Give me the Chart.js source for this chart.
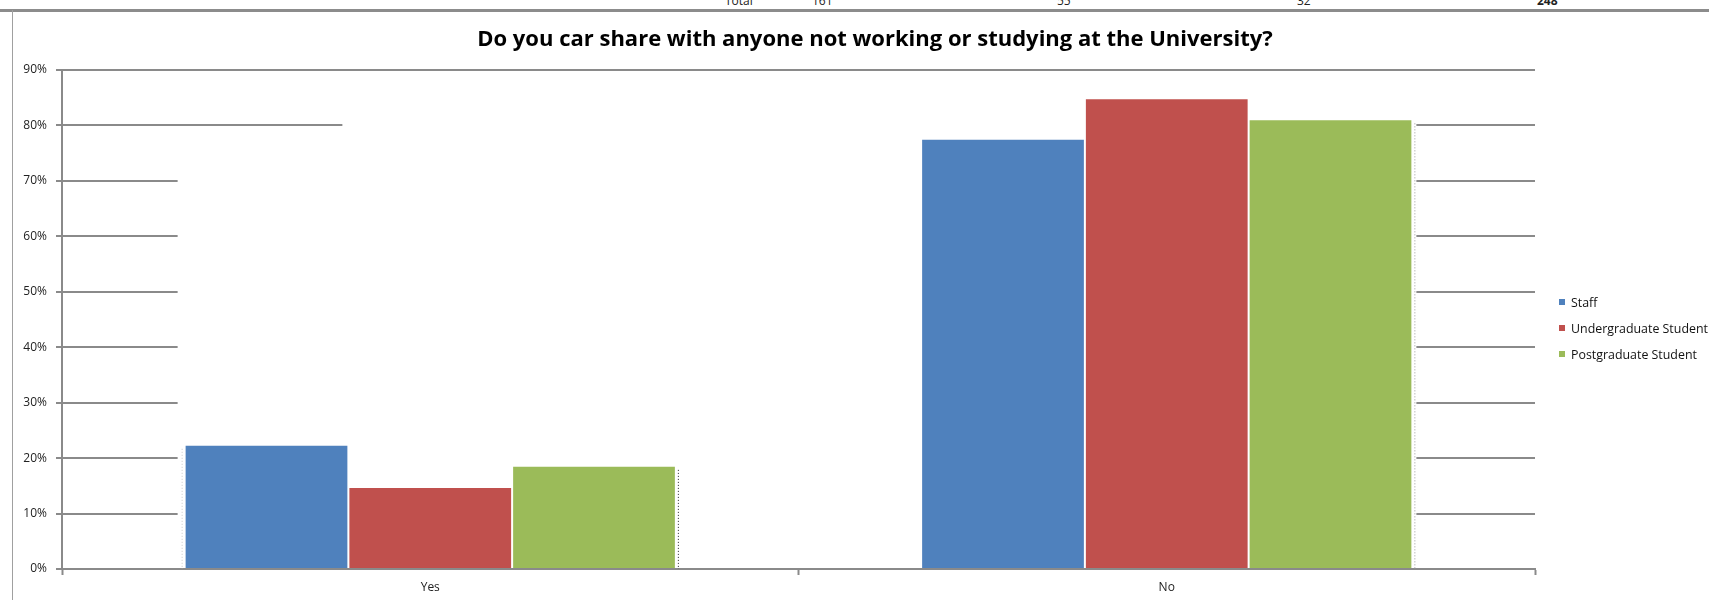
<!DOCTYPE html>
<html lang="en">

<head>
  <meta charset="utf-8">
  <title>Car share survey</title>
  <script src="https://cdn.jsdelivr.net/npm/chart.js@4.4.1/dist/chart.umd.min.js"></script>
  <style>
    body { margin: 0; overflow: hidden; background: #fff; font-family: "Open Sans", sans-serif; }
    #wrap { position: relative; width: 1709px; height: 600px; overflow: hidden; }
    #sheet span { position: absolute; top: -8px; font-size: 12px; color: #222; }
    #frame-top { position: absolute; left: 0; top: 9px; width: 1709px; height: 3px; background: #8c8c8c; }
    #frame-left { position: absolute; left: 12px; top: 10px; width: 1px; height: 590px; background: #a0a0a0; }
    #title { position: absolute; left: 475px; width: 800px; top: 24px; line-height: 26px; text-align: center;
             font-size: 22px; font-weight: bold; color: #000; white-space: nowrap; }
    #legend { position: absolute; left: 1559px; top: 294px; margin: 0; padding: 0; list-style: none; white-space: nowrap; }
    #legend li { height: 26px; line-height: 18px; font-size: 12.4px; color: #111; }
    #legend i { display: inline-block; width: 6px; height: 6px; margin-right: 6px; vertical-align: 2px; }
  </style>
</head>

<body>
  <div id="wrap">
    <!-- row of the sheet above the chart, mostly hidden -->
    <div id="sheet">
      <span style="left:725px">Total</span>
      <span style="left:812px">161</span>
      <span style="left:1057px">55</span>
      <span style="left:1297px">32</span>
      <span style="left:1537px;font-weight:bold">248</span>
    </div>
    <div id="frame-top"></div>
    <div id="frame-left"></div>
    <div style="position:absolute;left:0;top:0;width:1709px;height:600px;"><canvas id="graph"></canvas></div>
    <div id="title">Do you car share with anyone not working or studying at the University?</div>
    <ul id="legend"></ul>
  </div>

  <script>
    const answers = ['Yes', 'No'];
    const groups = ['Staff', 'Undergraduate Student', 'Postgraduate Student'];
    const colours = ['#4f81bd', '#c0504d', '#9bbb59'];
    // percent of each group giving each answer
    const staff = [22.4, 77.6];
    const undergrad = [14.8, 84.9];
    const postgrad = [18.6, 81.1];
    const yTicks = [0, 10, 20, 30, 40, 50, 60, 70, 80, 90];

    const gridGrey = '#8a8a8a';

    // white patches behind the bars knock out the gridlines, and the dotted drop lines
    const barShadow = {
      id: 'barShadow',
      beforeDatasetsDraw(chart) {
        const ctx = chart.ctx;
        const y = chart.scales.y;
        const first = chart.getDatasetMeta(0).data[0];
        const last = chart.getDatasetMeta(2).data[1];
        const left = first.x - first.width / 2 - 7;
        const right = last.x + last.width / 2 + 4;
        const base = y.getPixelForValue(0) - 1.5;
        const lowTop = y.getPixelForValue(Math.min(...staff.slice(1), ...undergrad.slice(1), ...postgrad.slice(1)));
        const highTop = y.getPixelForValue(Math.max(...staff, ...undergrad, ...postgrad));
        ctx.save();
        ctx.fillStyle = '#fff';
        ctx.fillRect(left, lowTop, right - left, base - lowTop);
        const mid = first.x + first.width / 2 - 6;
        ctx.fillRect(mid, highTop - 2, right - mid, lowTop - highTop + 2);
        ctx.restore();
      },
      afterDatasetsDraw(chart) {
        const ctx = chart.ctx;
        const base = chart.scales.y.getPixelForValue(0);
        ctx.save();
        ctx.lineWidth = 1;
        ctx.setLineDash([1, 2]);
        const first = chart.getDatasetMeta(0).data[0];
        ctx.strokeStyle = '#c8c8c8';
        ctx.beginPath();
        ctx.moveTo(first.x - first.width / 2 - 2.5, first.y + 4);
        ctx.lineTo(first.x - first.width / 2 - 2.5, base);
        ctx.stroke();
        chart.getDatasetMeta(2).data.forEach((bar, i) => {
          ctx.strokeStyle = i == 0 ? '#222' : '#999';
          const x = bar.x + bar.width / 2 + 2.5;
          ctx.beginPath();
          ctx.moveTo(x, bar.y + 4);
          ctx.lineTo(x, base);
          ctx.stroke();
        });
        ctx.restore();
      }
    };

    const data = {
      labels: answers,
      datasets: [staff, undergrad, postgrad].map((vals, i) => ({
        label: groups[i],
        data: vals,
        backgroundColor: colours[i],
        borderColor: 'rgba(255,255,255,0.85)',
        borderWidth: 1,
        barPercentage: 1.0,
        categoryPercentage: 0.667
      }))
    };

    const options = {
      responsive: true,
      maintainAspectRatio: false,
      animation: false,
      events: [],
      layout: { padding: { left: 11, right: 174, top: 70, bottom: 0 } },
      plugins: {
        legend: { display: false },
        tooltip: { enabled: false },
        title: { display: false }
      },
      scales: {
        x: {
          grid: { drawOnChartArea: false, color: gridGrey, tickLength: 6, tickWidth: 2 },
          border: { color: gridGrey, width: 2 },
          ticks: { color: '#222', padding: 5, font: { family: 'Open Sans', size: 12 } },
          afterFit: s => { s.height = 31; }
        },
        y: {
          min: 0,
          max: 90,
          afterBuildTicks: s => { s.ticks = yTicks.map(v => ({ value: v })); },
          grid: { color: gridGrey, lineWidth: 2, tickLength: 6 },
          border: { color: gridGrey, width: 2 },
          ticks: {
            color: '#222',
            padding: 9,
            font: { family: 'Open Sans', size: 12 },
            callback: v => v + '%'
          },
          afterFit: s => { s.width = 51; }
        }
      }
    };

    const chart = new Chart(document.getElementById('graph'), {
      type: 'bar',
      data: data,
      options: options,
      plugins: [barShadow]
    });

    // legend at the right, built from the chart's datasets
    document.getElementById('legend').innerHTML = chart.data.datasets
      .map(ds => '<li><i style="background:' + ds.backgroundColor + '"></i>' + ds.label + '</li>')
      .join('');
  </script>

</body>
</html>
